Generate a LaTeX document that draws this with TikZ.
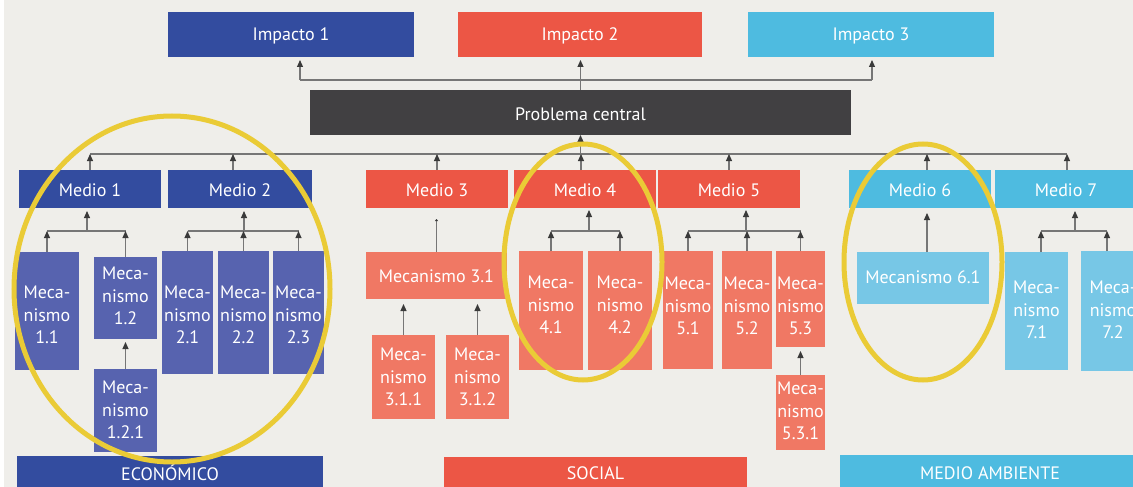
\documentclass[tikz,border=0pt]{standalone}
\usepackage{fontspec}
\setmainfont{PT Sans}
\usetikzlibrary{arrows.meta}
\definecolor{bgcol}{HTML}{EFEEEA}
\definecolor{darkblue}{HTML}{334C9F}
\definecolor{mechblue}{HTML}{5763AF}
\definecolor{redc}{HTML}{EC5645}
\definecolor{salmon}{HTML}{F07864}
\definecolor{lightblue}{HTML}{4EBBE0}
\definecolor{mechlight}{HTML}{77C7E6}
\definecolor{darkgrey}{HTML}{414042}
\definecolor{ringyellow}{HTML}{EACB36}
\definecolor{linegray}{HTML}{767676}
\definecolor{tipgray}{HTML}{3A3A3A}
\begin{document}
\begin{tikzpicture}[x=1pt,y=-1pt,
  box/.style={inner sep=0pt, outer sep=0pt, anchor=north west},
  lbl/.style={text=white, font=\fontsize{18}{22.5}\selectfont, align=center, inner sep=0pt},
  slbl/.style={lbl, yshift=-1.5pt},
  plain/.style={draw=linegray, line width=1.1pt},
  conn/.style={draw=linegray, line width=1.1pt, -{Triangle[width=6pt,length=7pt,color=tipgray]}},
  tiny/.style={draw=linegray, line width=1.1pt, -{Triangle[width=3pt,length=2pt,color=tipgray]}},
  ring/.style={draw=ringyellow, line width=5pt}
]
\useasboundingbox (0,0) rectangle (1133,487);
\fill[white] (0,0) rectangle (1133,487);
\fill[bgcol] (4,0) rectangle (1133,487);

% impacts and central problem
\node[box, fill=darkblue, minimum width=246pt, minimum height=45pt] (imp1) at (168,12) {};
\node[box, fill=redc, minimum width=244pt, minimum height=45pt] (imp2) at (458,12) {};
\node[box, fill=lightblue, minimum width=246pt, minimum height=45pt] (imp3) at (748,12) {};
\node[box, fill=darkgrey, minimum width=541pt, minimum height=45pt] (prob) at (310,90) {};
\node[slbl] (imp1t) at (imp1.center) {Impacto 1};
\node[slbl] (imp2t) at (imp2.center) {Impacto 2};
\node[slbl] (imp3t) at (imp3.center) {Impacto 3};
\node[slbl] (probt) at (prob.center) {Problema central};

% medios
\node[box, fill=darkblue, minimum width=142pt, minimum height=38pt] (med1) at (19,170) {};
\node[box, fill=darkblue, minimum width=144pt, minimum height=38pt] (med2) at (168,170) {};
\node[box, fill=redc, minimum width=142pt, minimum height=38pt] (med3) at (366,170) {};
\node[box, fill=redc, minimum width=142pt, minimum height=38pt] (med4) at (514,170) {};
\node[box, fill=redc, minimum width=142pt, minimum height=38pt] (med5) at (658,170) {};
\node[box, fill=lightblue, minimum width=142pt, minimum height=38pt] (med6) at (849,170) {};
\node[box, fill=lightblue, minimum width=142pt, minimum height=38pt] (med7) at (995,170) {};
\foreach \n in {1,...,7} {\node[slbl] (med\n t) at (med\n.center) {Medio \n};}

% mecanismos, economic group
\node[box, fill=mechblue, minimum width=64pt, minimum height=118pt] (m11) at (15,252) {};
\node[box, fill=mechblue, minimum width=63pt, minimum height=82pt] (m12) at (94,257) {};
\node[box, fill=mechblue, minimum width=63pt, minimum height=83pt] (m121) at (94,369) {};
\node[box, fill=mechblue, minimum width=51pt, minimum height=123pt] (m21) at (162,251) {};
\node[box, fill=mechblue, minimum width=51pt, minimum height=123pt] (m22) at (218,251) {};
\node[box, fill=mechblue, minimum width=51pt, minimum height=123pt] (m23) at (273,251) {};
\node[lbl] (m11t) at (47,315) {Meca-\\nismo\\1.1};
\node[lbl] (m12t) at (125.5,296) {Meca-\\nismo\\1.2};
\node[lbl] (m121t) at (125.5,410) {Meca-\\nismo\\1.2.1};
\node[lbl] (m21t) at (187.5,315) {Meca-\\nismo\\2.1};
\node[lbl] (m22t) at (243.5,315) {Meca-\\nismo\\2.2};
\node[lbl] (m23t) at (298.5,315) {Meca-\\nismo\\2.3};

% mecanismos, social group
\node[box, fill=salmon, minimum width=141pt, minimum height=47pt] (m31) at (366,252) {};
\node[box, fill=salmon, minimum width=63pt, minimum height=84pt] (m311) at (372,335) {};
\node[box, fill=salmon, minimum width=63pt, minimum height=84pt] (m312) at (446,335) {};
\node[box, fill=salmon, minimum width=64pt, minimum height=119pt] (m41) at (519,251) {};
\node[box, fill=salmon, minimum width=64pt, minimum height=119pt] (m42) at (588,251) {};
\node[box, fill=salmon, minimum width=50pt, minimum height=118pt] (m51) at (663,251) {};
\node[box, fill=salmon, minimum width=50pt, minimum height=118pt] (m52) at (722,251) {};
\node[box, fill=salmon, minimum width=49pt, minimum height=96pt] (m53) at (776,251) {};
\node[box, fill=salmon, minimum width=49pt, minimum height=75pt] (m531) at (776,375) {};
\node[slbl] (m31t) at (436.5,275) {Mecanismo 3.1};
\node[lbl] (m311t) at (403.5,377) {Meca-\\nismo\\3.1.1};
\node[lbl] (m312t) at (477.5,377) {Meca-\\nismo\\3.1.2};
\node[lbl] (m41t) at (551,305) {Meca-\\nismo\\4.1};
\node[lbl] (m42t) at (620,305) {Meca-\\nismo\\4.2};
\node[lbl] (m51t) at (688,306) {Meca-\\nismo\\5.1};
\node[lbl] (m52t) at (747,306) {Meca-\\nismo\\5.2};
\node[lbl] (m53t) at (800.5,306) {Meca-\\nismo\\5.3};
\node[lbl] (m531t) at (800.5,411) {Meca-\\nismo\\5.3.1};

% mecanismos, environmental group
\node[box, fill=mechlight, minimum width=132pt, minimum height=52pt] (m61) at (857,252) {};
\node[box, fill=mechlight, minimum width=63pt, minimum height=118pt] (m71) at (1005,252) {};
\node[box, fill=mechlight, minimum width=64pt, minimum height=120pt] (m72) at (1081,251) {};
\node[slbl] (m61t) at (923,276) {Mecanismo 6.1};
\node[lbl] (m71t) at (1036.5,310) {Meca-\\nismo\\7.1};
\node[lbl] (m72t) at (1113,310) {Meca-\\nismo\\7.2};

% dimension bars
\node[box, fill=darkblue, minimum width=306pt, minimum height=40pt] (eco) at (17,456) {};
\node[box, fill=redc, minimum width=303pt, minimum height=40pt] (soc) at (444,457) {};
\node[box, fill=lightblue, minimum width=300pt, minimum height=40pt] (env) at (840,455) {};
\node[lbl] (ecot) at (170,473) {ECONÓMICO};
\node[lbl] (soct) at (595.5,473) {SOCIAL};
\node[lbl] (envt) at (990,473) {MEDIO AMBIENTE};

% problem to impacts
\coordinate (tl) at (300,80);
\coordinate (tr) at (872,80);
\draw[plain] (tl) -- (tr);
\draw[conn, shorten >=3pt] (tl) -- (tl |- imp1.south);
\draw[conn, shorten >=3pt] (prob.north) -- (prob.north |- imp2.south);
\draw[conn, shorten >=3pt] (tr) -- (tr |- imp3.south);

% medios to problem
\coordinate (ml) at (90,154);
\coordinate (mr) at (1067,154);
\draw[plain] (ml) -- (mr);
\draw[conn] (prob.south |- ml) -- (prob.south);
\draw[conn] (med1.north) -- (med1.north |- ml);
\draw[conn] ([xshift=-7pt]med2.north) -- ([xshift=-7pt]med2.north |- ml);
\draw[conn] (med3.north) -- (med3.north |- ml);
\draw[conn] ([xshift=-4pt]med4.north) -- ([xshift=-4pt]med4.north |- ml);
\draw[conn] (med5.north) -- (med5.north |- ml);
\draw[conn] ([xshift=7pt]med6.north) -- ([xshift=7pt]med6.north |- ml);
\draw[conn] (mr |- med7.north) -- (mr);

% medio 1
\coordinate (b1) at (87,231);
\draw[plain] (m11.north |- b1) -- (m12.north |- b1);
\draw[conn, shorten >=3pt] (b1) -- (b1 |- med1.south);
\draw[conn] (m11.north) -- (m11.north |- b1);
\draw[conn] (m12.north) -- (m12.north |- b1);
\draw[conn, shorten >=3pt] (m121.north) -- (m12.south);

% medio 2
\coordinate (b2) at (244,231);
\draw[plain] (m21.north |- b2) -- (m23.north |- b2);
\draw[conn, shorten >=3pt] (b2) -- (b2 |- med2.south);
\draw[conn] (m21.north) -- (m21.north |- b2);
\draw[conn] (m22.north) -- (m22.north |- b2);
\draw[conn] (m23.north) -- (m23.north |- b2);

% medio 3
\draw[tiny, shorten >=11pt] (m31.north) -- (m31.north |- med3.south);
\draw[conn, shorten >=5pt] (m311.north) -- (m311.north |- m31.south);
\draw[conn, shorten >=5pt] (m312.north) -- (m312.north |- m31.south);

% medio 4
\coordinate (b4) at (589,231);
\draw[plain] (m41.north |- b4) -- (m42.north |- b4);
\draw[conn, shorten >=2pt] (b4) -- (b4 |- med4.south);
\draw[conn] (m41.north) -- (m41.north |- b4);
\draw[conn] (m42.north) -- (m42.north |- b4);

% medio 5
\coordinate (b5) at (746,231);
\draw[plain] (m51.north |- b5) -- (m53.north |- b5);
\draw[conn, shorten >=2pt] (b5) -- (b5 |- med5.south);
\draw[conn] (m51.north) -- (m51.north |- b5);
\draw[conn] (m52.north) -- (m52.north |- b5);
\draw[conn] (m53.north) -- (m53.north |- b5);
\draw[conn, shorten >=4pt] (m531.north) -- (m53.south);

% medio 6
\draw[conn, shorten >=5pt] ([xshift=4pt]m61.north) -- ([xshift=4pt]m61.north |- med6.south);

% medio 7
\coordinate (b7) at (1075,231);
\coordinate (b7l) at (1041,231);
\coordinate (b7r) at (1107,231);
\draw[plain] (b7l) -- (b7r);
\draw[conn, shorten >=3pt] (b7) -- (b7 |- med7.south);
\draw[conn] (b7l |- m71.north) -- (b7l);
\draw[conn] (b7r |- m72.north) -- (b7r);

% highlight rings
\draw[ring] (172,289) ellipse [x radius=158, y radius=173];
\draw[ring] (583,262) ellipse [x radius=79, y radius=118];
\draw[ring] (923,262) ellipse [x radius=79, y radius=118];
\end{tikzpicture}
\end{document}
